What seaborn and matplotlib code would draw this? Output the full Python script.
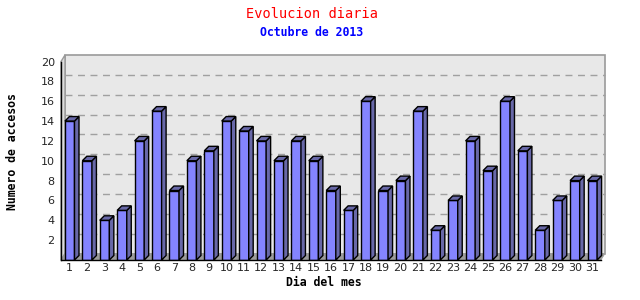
import numpy as np
import pandas as pd
import matplotlib
matplotlib.use("Agg")
import matplotlib.pyplot as plt
import seaborn as sns
from matplotlib.patches import Polygon, Rectangle

days = [str(d) for d in range(1, 32)]
accesos = [14, 10, 4, 5, 12, 15, 7, 10, 11, 14, 13, 12, 10, 12, 10, 7, 5, 16,
           7, 8, 15, 3, 6, 12, 9, 16, 11, 3, 6, 8, 8]
yticks = [2, 4, 6, 8, 10, 12, 14, 16, 18, 20]

title = "Evolucion diaria"
subtitle = "Octubre de 2013"
xlabel = "Dia del mes"
ylabel = "Numero de accesos"

sns.set_style("white")
plt.rcParams['font.family'] = ['DejaVu Sans']

df = pd.DataFrame({"dia": days, "accesos": accesos})

fig = plt.figure(figsize=(6.4, 3.0), dpi=100)
W, H = 640, 300
x0, x1, yb, yt = 61, 601, 260, 61.5
ax = fig.add_axes([x0 / W, 1 - yb / H, (x1 - x0) / W, (yb - yt) / H])
ax.set_facecolor("none")

front = "#8484ff"
side = "#6868a8"

sns.barplot(data=df, x="dia", y="accesos", color=front, width=0.55,
            saturation=1, edgecolor="black", linewidth=1.0, ax=ax, zorder=3)

ax.set_xlim(-0.5, len(days) - 0.5)
ax.set_ylim(0, 20)

fig.canvas.draw()
inv = ax.transData.inverted()
p0 = inv.transform((0, 0))
p1 = inv.transform((4.5, 4.5))
ddx, ddy = p1[0] - p0[0], p1[1] - p0[1]
w1 = inv.transform((4.0, 6.5))
wdx, wdy = w1[0] - p0[0], w1[1] - p0[1]

xl0, xl1 = ax.get_xlim()
# back wall
ax.add_patch(Polygon([(xl0 + wdx, wdy), (xl1 + wdx, wdy), (xl1 + wdx, 20 + wdy),
                      (xl0 + wdx, 20 + wdy)], closed=True, facecolor="#e8e8e8",
                     edgecolor="#9a9a9a", linewidth=1.2, zorder=0, clip_on=False))
# left side wall
ax.add_patch(Polygon([(xl0, 0), (xl0 + wdx, wdy), (xl0 + wdx, 20 + wdy), (xl0, 20)],
                     closed=True, facecolor="#dcdcdc", edgecolor="#9a9a9a",
                     linewidth=1.0, zorder=0.5, clip_on=False))
# floor
ax.add_patch(Polygon([(xl0, 0), (xl1, 0), (xl1 + wdx, wdy), (xl0 + wdx, wdy)],
                     closed=True, facecolor="#9c9c9c", edgecolor="#9c9c9c",
                     linewidth=0.5, zorder=1, clip_on=False))
# dashed grid on back wall
for v in yticks[:-1]:
    ax.plot([xl0 + wdx, xl1 + wdx], [v + wdy, v + wdy], color="#a0a0a0",
            linestyle=(0, (5, 4)), linewidth=1.0, zorder=1, clip_on=False)

# 3D faces for bars
for p in list(ax.patches):
    if not isinstance(p, Rectangle):
        continue
    bx, bw, bh = p.get_x(), p.get_width(), p.get_height()
    if bh <= 0:
        continue
    ax.add_patch(Polygon([(bx + bw, 0), (bx + bw + ddx, ddy), (bx + bw + ddx, bh + ddy),
                          (bx + bw, bh)], closed=True, facecolor=side,
                         edgecolor="black", linewidth=1.0, zorder=3, clip_on=False))
    ax.add_patch(Polygon([(bx, bh), (bx + ddx, bh + ddy), (bx + bw + ddx, bh + ddy),
                          (bx + bw, bh)], closed=True, facecolor=side,
                         edgecolor="black", linewidth=1.0, zorder=3, clip_on=False))

for s in ["top", "right"]:
    ax.spines[s].set_visible(False)
ax.spines["left"].set_color("black")
ax.spines["bottom"].set_color("black")
ax.spines["left"].set_linewidth(1)
ax.spines["bottom"].set_linewidth(1)
ax.spines["left"].set_zorder(4)
ax.spines["bottom"].set_zorder(4)

ax.set_yticks(yticks)
ax.set_yticklabels([str(v) for v in yticks])
ax.set_xticks(range(len(days)))
ax.set_xticklabels(days)
ax.set_xticks(np.arange(len(days)) + 0.5, minor=True)
ax.tick_params(axis="x", which="major", length=0, pad=2, labelsize=8)
ax.tick_params(axis="x", which="minor", length=3, direction="out", color="black")
ax.tick_params(axis="y", length=3, direction="out", color="black", labelsize=8, pad=1.5)
ax.set_xlabel("")
ax.set_ylabel("")

fig.text(312 / W, 1 - 14 / H, title, color="red", fontsize=9.8,
         family="DejaVu Sans Mono", ha="center", va="center")
fig.text(312 / W, 1 - 32 / H, subtitle, color="blue", fontsize=8.3,
         family="DejaVu Sans Mono", fontweight="bold", ha="center", va="center")
fig.text(324 / W, 1 - 283 / H, xlabel, color="black", fontsize=8.3,
         family="DejaVu Sans Mono", fontweight="bold", ha="center", va="center")
fig.text(13 / W, 1 - 152 / H, ylabel, color="black", fontsize=8.3, rotation=90,
         family="DejaVu Sans Mono", fontweight="bold", ha="center", va="center")

fig.savefig("out.png", dpi=100)
